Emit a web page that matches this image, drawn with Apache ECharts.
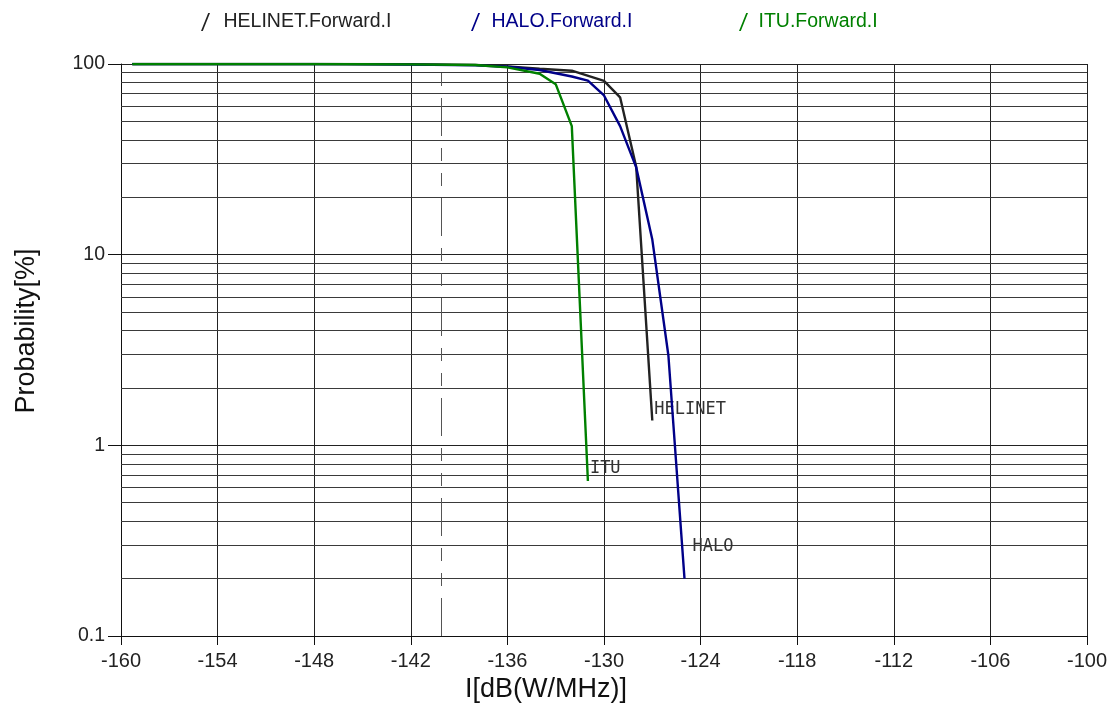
<!DOCTYPE html>
<html><head><meta charset="utf-8">
<script src="https://cdn.jsdelivr.net/npm/echarts@6/dist/echarts.min.js"></script>
<style>html,body{margin:0;padding:0;background:#fff}#c{width:1112px;height:727px}</style>
</head><body><div id="c"></div>
<script>
// ---- data ----
const seriesNames = ['HELINET.Forward.I', 'HALO.Forward.I', 'ITU.Forward.I'];
const endNames = ['HELINET', 'HALO', 'ITU'];

const xHelinet = [-159.3, -148, -142, -138, -136, -134, -132, -130, -129, -128, -127];
const yHelinet = [100, 99.95, 99.7, 99, 97, 94.5, 92.2, 81.5, 66.9, 28.9, 1.35];

const xHalo = [-159.3, -148, -146, -142, -138, -136, -134, -132, -131, -130, -129, -128, -127, -126, -125];
const yHalo = [100, 99.95, 99.8, 99.2, 98.3, 96.8, 93, 86, 81.8, 68.4, 47.2, 28.7, 12, 2.96, 0.2];

const xItu = [-159.3, -148, -142, -138, -136, -134, -133, -132, -131];
const yItu = [100, 99.95, 99.6, 98.8, 96, 88.9, 78.4, 47.2, 0.65];

const refLineX = [-140.1];
const minorGridY = [0.2, 0.3, 0.4, 0.5, 0.6, 0.7, 0.8, 0.9, 2, 3, 4, 5, 6, 7, 8, 9, 20, 30, 40, 50, 60, 70, 80, 90];

const xMin = -160, xMax = -100, xStep = 6;
const yMin = 0.1, yMax = 100;

// ---- chart ----
const colors = ['#222222', '#000088', '#008000'];
const FONT = 'Liberation Sans, Arial, sans-serif';
const pair = (xs, ys) => xs.map((x, i) => [x, ys[i]]);
const slash = 'path://M0,20 L8,0 L10,0 L2,20 Z';

const chart = echarts.init(document.getElementById('c'), null, {renderer: 'canvas'});

const legendLefts = [196, 466, 734];
const legendPads = [8, 6, 5];
const legends = seriesNames.map((n, i) => ({
  data: [n], left: legendLefts[i], top: 7, orient: 'horizontal',
  icon: slash, itemWidth: 10, itemHeight: 18, itemGap: 0,
  textStyle: {color: colors[i], fontSize: 19.5, fontFamily: FONT, padding: [0, 0, 0, legendPads[i]]},
  selectedMode: false
}));

const endOffsets = [[2, -11], [8, -32], [2, -12]];
const datasets = [pair(xHelinet, yHelinet), pair(xHalo, yHalo), pair(xItu, yItu)];

const lineSeries = seriesNames.map((n, i) => ({
  name: n, type: 'line', data: datasets[i], showSymbol: false, symbol: 'none',
  color: colors[i],
  lineStyle: {color: colors[i], width: 2.4},
  z: 5 + i,
  endLabel: {
    show: true, formatter: endNames[i], distance: 0, offset: endOffsets[i],
    fontFamily: 'DejaVu Sans Mono, monospace', fontSize: 17, color: '#333'
  }
}));

const option = {
  animation: false,
  backgroundColor: '#fff',
  legend: legends,
  grid: {left: 121, right: 25, top: 64, bottom: 91},
  xAxis: {
    type: 'value', min: xMin, max: xMax, interval: xStep,
    name: 'I[dB(W/MHz)]', nameLocation: 'middle', nameGap: 34,
    nameTextStyle: {fontSize: 27, fontFamily: FONT, color: '#111', padding: [0, 116, 0, 0]},
    axisLine: {show: true, onZero: false, lineStyle: {color: '#111', width: 1}},
    axisTick: {show: true, inside: false, length: 9, lineStyle: {color: '#111'}},
    axisLabel: {fontSize: 20, fontFamily: FONT, color: '#222', margin: 15},
    splitLine: {show: true, lineStyle: {color: '#222', width: 1}}
  },
  yAxis: {
    type: 'log', logBase: 10, min: yMin, max: yMax,
    name: 'Probability[%]', nameLocation: 'middle', nameGap: 81, nameRotate: 90,
    nameTextStyle: {fontSize: 27, fontFamily: FONT, color: '#111', padding: [0, 0, 0, 38]},
    axisLine: {show: true, lineStyle: {color: '#111', width: 1}},
    axisTick: {show: true, inside: false, length: 13, lineStyle: {color: '#111'}},
    axisLabel: {fontSize: 19.5, fontFamily: FONT, color: '#222', margin: 16,
      formatter: v => String(+v.toPrecision(6))},
    splitLine: {show: true, lineStyle: {color: '#222', width: 1}}
  },
  series: [
    {
      name: 'grid', type: 'line', data: [[xMin, yMax]], symbol: 'none',
      lineStyle: {opacity: 0}, silent: true, z: 1,
      markLine: {
        silent: true, symbol: ['none', 'none'], label: {show: false},
        lineStyle: {color: '#3a3a3a', width: 1, type: 'solid'},
        data: minorGridY.map(v => ({yAxis: v}))
      }
    },
    {
      name: 'ref', type: 'line', data: [[xMin, yMax]], symbol: 'none',
      lineStyle: {opacity: 0}, silent: true, z: 2,
      markLine: {
        silent: true, symbol: ['none', 'none'], label: {show: false},
        lineStyle: {color: '#555', width: 1, type: [38, 12, 13, 12, 13, 12]},
        data: refLineX.map(v => ({xAxis: v}))
      }
    },
    ...lineSeries
  ]
};
chart.setOption(option);
</script>
</body></html>
